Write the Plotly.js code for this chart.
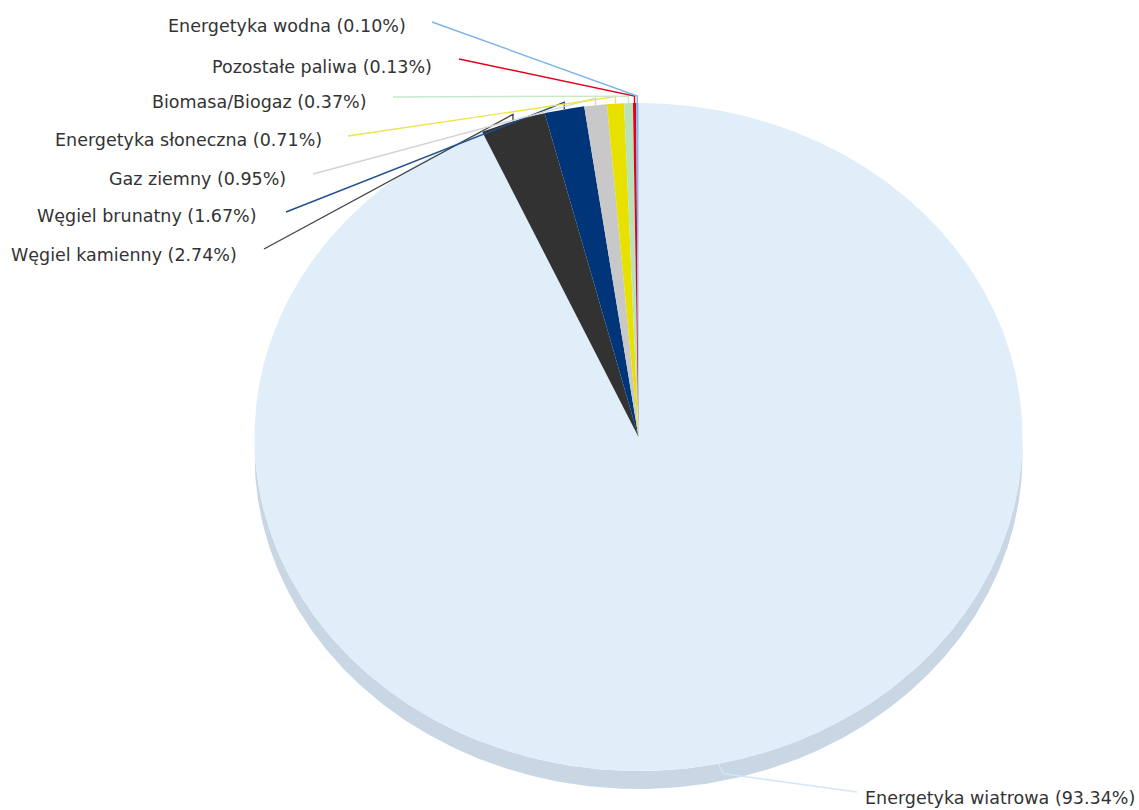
<!DOCTYPE html>
<html>
<head>
<meta charset="utf-8">
<script src="https://cdn.plot.ly/plotly-3.0.1.min.js"></script>
<style>html,body{margin:0;padding:0;background:#fff;}#chart{width:1139px;height:810px;}</style>
</head>
<body>
<div id="chart"></div>
<script>
// ---- data ----
const categories = ['Energetyka wiatrowa', 'Węgiel kamienny', 'Węgiel brunatny', 'Gaz ziemny',
  'Energetyka słoneczna', 'Biomasa/Biogaz', 'Pozostałe paliwa', 'Energetyka wodna'];
const shares = [93.34, 2.74, 1.67, 0.95, 0.71, 0.37, 0.13, 0.10];

// ---- styles ----
const sliceColors = ['#e0eefa', '#323232', '#00357a', '#c8c8c8', '#e8e100', '#b9e2bb', '#e2001a', '#7cb5ec'];
const connectorColors = ['#d3e6f7', '#444444', '#1f4f8f', '#d4d4d4', '#ece54a', '#c9e8ca', '#e2001a', '#7cb5ec'];
const sideColor = '#c9d7e4';

// ---- geometry (pixels) ----
const geo = {cx: 638.5, cy: 437, a: 384, b: 334, depth: 18};
// label layout: connector start point, text anchor
const labelLayout = [
  {lx: 857, ly: 792, tx: 863, ty: 798, anchor: 'left'},
  {lx: 264, ly: 249, tx: 239, ty: 255, anchor: 'right'},
  {lx: 286, ly: 212, tx: 259, ty: 216, anchor: 'right'},
  {lx: 313, ly: 174, tx: 288, ty: 179, anchor: 'right'},
  {lx: 348, ly: 136, tx: 324, ty: 140, anchor: 'right'},
  {lx: 393, ly: 97,  tx: 369, ty: 102, anchor: 'right'},
  {lx: 459, ly: 59,  tx: 434, ty: 67,  anchor: 'right'},
  {lx: 432, ly: 22,  tx: 408, ty: 26,  anchor: 'right'}
];

function pt(deg, dy) {
  const r = deg * Math.PI / 180;
  return [geo.cx + geo.a * Math.sin(r), geo.cy - geo.b * Math.cos(r) + (dy || 0)];
}

const total = shares.reduce((s, v) => s + v, 0);
const traces = [];

// side (depth) of the pie: lower half
{
  const xs = [], ys = [];
  for (let d = 90; d <= 270; d += 0.5) { const p = pt(d, 0); xs.push(p[0]); ys.push(p[1]); }
  for (let d = 270; d >= 90; d -= 0.5) { const p = pt(d, geo.depth); xs.push(p[0]); ys.push(p[1]); }
  traces.push({type: 'scatter', mode: 'lines', x: xs, y: ys, fill: 'toself', fillcolor: sideColor,
    line: {width: 0, color: sideColor}, hoverinfo: 'skip', showlegend: false});
}

// top slices
let acc = 0;
const mids = [];
shares.forEach((v, i) => {
  const t0 = acc / total * 360;
  acc += v;
  const t1 = acc / total * 360;
  mids.push((t0 + t1) / 2);
  const xs = [geo.cx], ys = [geo.cy];
  const steps = Math.max(2, Math.ceil((t1 - t0) / 0.25));
  for (let k = 0; k <= steps; k++) {
    const p = pt(t0 + (t1 - t0) * k / steps);
    xs.push(p[0]); ys.push(p[1]);
  }
  xs.push(geo.cx); ys.push(geo.cy);
  traces.push({type: 'scatter', mode: 'lines', x: xs, y: ys, fill: 'toself', fillcolor: sliceColors[i],
    line: {width: 0, color: sliceColors[i]}, hoverinfo: 'skip', showlegend: false});
});

// connectors and labels
const annotations = [];
shares.forEach((v, i) => {
  const L = labelLayout[i];
  const p = pt(mids[i]);
  let xs, ys;
  if (p[1] > geo.cy) {
    xs = [p[0], p[0] + 5, L.lx];
    ys = [p[1], p[1] + 10, L.ly];
  } else {
    xs = [L.lx, p[0], p[0]];
    ys = [L.ly, p[1] - 7, p[1]];
  }
  traces.push({type: 'scatter', mode: 'lines', x: xs, y: ys,
    line: {width: 1.4, color: connectorColors[i]}, hoverinfo: 'skip', showlegend: false});
  annotations.push({x: L.tx, y: L.ty, xref: 'x', yref: 'y', showarrow: false,
    text: categories[i] + ' (' + v.toFixed(2) + '%)', xanchor: L.anchor, yanchor: 'middle',
    font: {family: 'DejaVu Sans', size: 17.5, color: '#333333'}});
});

const layout = {
  width: 1139, height: 810,
  margin: {l: 0, r: 0, t: 0, b: 0},
  paper_bgcolor: '#ffffff', plot_bgcolor: '#ffffff',
  xaxis: {range: [0, 1139], visible: false, fixedrange: true},
  yaxis: {range: [810, 0], visible: false, fixedrange: true},
  showlegend: false,
  annotations: annotations
};

Plotly.newPlot('chart', traces, layout, {displayModeBar: false, staticPlot: true});
</script>
</body>
</html>
